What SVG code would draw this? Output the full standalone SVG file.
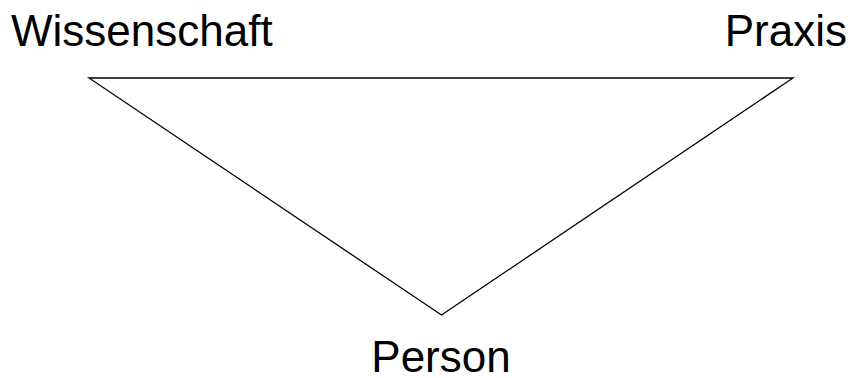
<svg xmlns="http://www.w3.org/2000/svg" width="851" height="378" viewBox="0 0 851 378">
<style>
text{font-family:"Liberation Sans",Arial,sans-serif;font-size:44px;fill:#000}
.edge{stroke:#000;stroke-width:1.3;fill:none}
</style>
<rect width="851" height="378" fill="#fff"/>
<g id="connectors">
<path class="edge" d="M89,78 L793,78 L441.5,315 Z"/>
</g>
<g id="node-wissenschaft"><text x="11" y="46">Wissenschaft</text></g>
<g id="node-praxis"><text x="847" y="46" text-anchor="end">Praxis</text></g>
<g id="node-person"><text x="441" y="372" text-anchor="middle">Person</text></g>
</svg>
